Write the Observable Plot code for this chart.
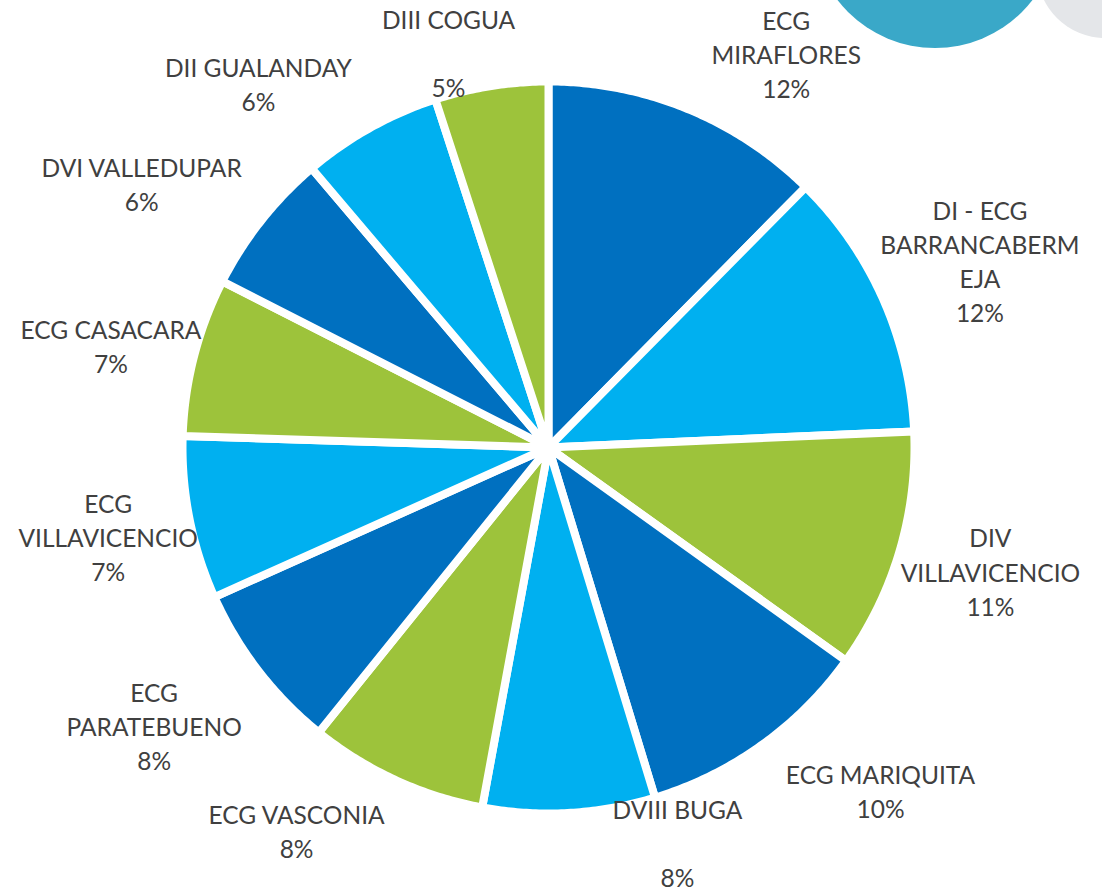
<!DOCTYPE html>
<html>
<head>
<meta charset="utf-8">
<script src="https://cdn.jsdelivr.net/npm/d3@7"></script>
<script src="https://cdn.jsdelivr.net/npm/@observablehq/plot@0.6"></script>
<style>
  html, body { margin: 0; padding: 0; background: #ffffff; }
  #wrap { position: relative; width: 1102px; height: 893px; overflow: hidden; }
  .deco { position: absolute; border-radius: 50%; z-index: 2; }
</style>
</head>
<body>
<div id="wrap">
  <div class="deco" style="left:1037px; top:-98px; width:136px; height:136px; background:#e4e6e9;"></div>
  <div class="deco" style="left:812px; top:-198px; width:246px; height:246px; background:#3aa8c8; box-shadow:0 0 0 3px #ffffff;"></div>
</div>
<script>
// ---- data ----
const names = [
  "ECG MIRAFLORES", "DI - ECG BARRANCABERMEJA", "DIV VILLAVICENCIO", "ECG MARIQUITA",
  "DVIII BUGA", "ECG VASCONIA", "ECG PARATEBUENO", "ECG VILLAVICENCIO",
  "ECG CASACARA", "DVI VALLEDUPAR", "DII GUALANDAY", "DIII COGUA"
];
const values = [12.4, 11.9, 10.6, 10.4, 7.6, 7.9, 7.5, 7.2, 7.0, 6.3, 6.2, 5.0];
const pctLabels = ["12%", "12%", "11%", "10%", "8%", "8%", "8%", "7%", "7%", "6%", "6%", "5%"];
const labelNames = [
  "ECG\nMIRAFLORES", "DI - ECG\nBARRANCABERM\nEJA", "DIV\nVILLAVICENCIO", "ECG MARIQUITA",
  "DVIII BUGA\n", "ECG VASCONIA", "ECG\nPARATEBUENO", "ECG\nVILLAVICENCIO",
  "ECG CASACARA", "DVI VALLEDUPAR", "DII GUALANDAY", "DIII COGUA\n"
];
const sliceColors = ["#0070c0", "#00b0f0", "#9dc33b", "#0070c0", "#00b0f0", "#9dc33b",
                     "#0070c0", "#00b0f0", "#9dc33b", "#0070c0", "#00b0f0", "#9dc33b"];
// label nudges (screen px, right / down) from the default radial placement
const labelNudge = [[63, 31], [11, -1], [1, -8], [64, -31], [103, -65], [-60, -35],
                    [-30, -3], [11, 0], [8, 12], [-46, 21], [-66, 37], [-28, 59]];

// ---- layout ----
const W = 1102, H = 893, CX = 548, CY = 447, R = 366, LR = 460;

const rows = names.map((name, i) => ({name, value: values[i], i}));
const arcs = d3.pie().sort(null).value(d => d.value)(rows);

const polyPts = [];
for (const a of arcs) {
  const n = Math.max(4, Math.ceil((a.endAngle - a.startAngle) / (Math.PI / 360)));
  polyPts.push({name: a.data.name, x: 0, y: 0});
  for (let k = 0; k <= n; k++) {
    const t = a.startAngle + (a.endAngle - a.startAngle) * k / n;
    polyPts.push({name: a.data.name, x: R * Math.sin(t), y: R * Math.cos(t)});
  }
  polyPts.push({name: a.data.name, x: 0, y: 0});
}

const labels = arcs.map((a, i) => {
  const m = (a.startAngle + a.endAngle) / 2;
  return {
    text: labelNames[i] + "\n" + pctLabels[i],
    x: LR * Math.sin(m) + labelNudge[i][0],
    y: LR * Math.cos(m) - labelNudge[i][1]
  };
});

const chart = Plot.plot({
  width: W,
  height: H,
  margin: 0,
  style: {fontFamily: "Lato, 'Open Sans', sans-serif", background: "transparent"},
  x: {domain: [-CX, W - CX], range: [0, W], axis: null},
  y: {domain: [CY, CY - H], range: [0, H], axis: null},
  color: {domain: names, range: sliceColors},
  marks: [
    Plot.line(polyPts, {
      x: "x", y: "y", z: "name", fill: "name",
      stroke: "#ffffff", strokeWidth: 8, strokeLinejoin: "round", curve: "linear"
    }),
    Plot.text(labels, {
      x: "x", y: "y", text: "text",
      fontSize: 24.5, lineHeight: 1.39, lineAnchor: "middle", textAnchor: "middle",
      fill: "#404040"
    })
  ]
});
document.getElementById("wrap").appendChild(chart);
</script>
</body>
</html>
